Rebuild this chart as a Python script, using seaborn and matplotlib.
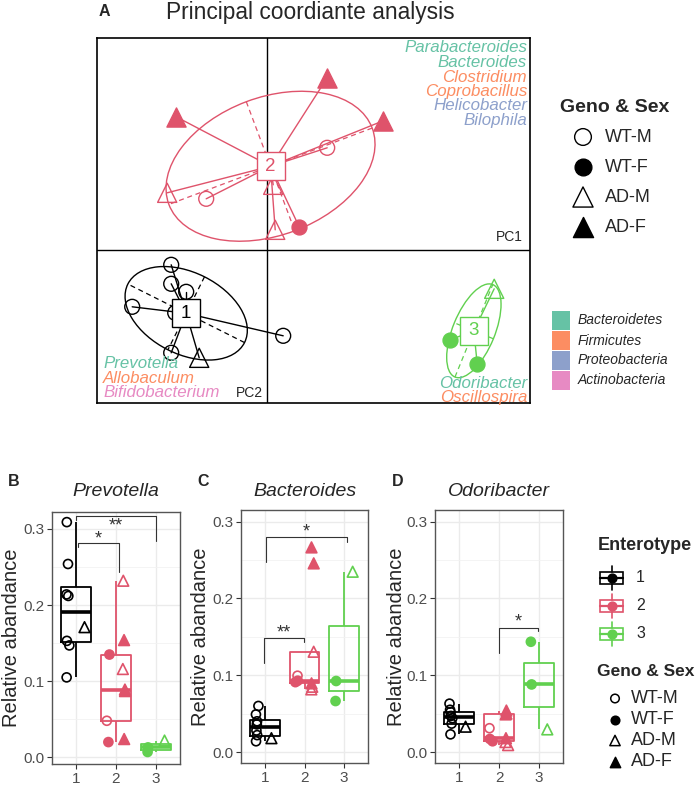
import numpy as np
import pandas as pd
import matplotlib
matplotlib.use("Agg")
import matplotlib.pyplot as plt
from matplotlib.patches import Ellipse, Rectangle
import seaborn as sns

# ---------------- data ----------------
cluster_ids = ["1", "2", "3"]
cluster_colors = ["#000000", "#DF536B", "#61D04F"]
groups = ["WT-M", "WT-F", "AD-M", "AD-F"]
group_marker = ["o", "o", "^", "^"]
group_filled = [False, True, False, True]

phyla = ["Bacteroidetes", "Firmicutes", "Proteobacteria", "Actinobacteria"]
phylum_colors = ["#66C2A5", "#FC8D62", "#8DA0CB", "#E78AC3"]

# PCoA scores
pc_cluster = ["1"] * 8 + ["2"] * 9 + ["3"] * 3
pc_group = ["WT-M", "WT-M", "WT-M", "WT-M", "WT-M", "WT-M", "AD-M", "WT-M",
            "AD-F", "AD-F", "AD-F", "WT-M", "AD-M", "WT-M", "AD-M", "AD-M", "WT-F",
            "AD-M", "WT-F", "WT-F"]
pc1 = [-0.96, -0.96, -0.81, -1.35, 0.16, -0.96, -0.68, -0.92,
       0.60, -0.91, 1.16, 0.60, -1.00, -0.61, 0.06, 0.08, 0.32,
       2.27, 1.83, 2.10]
pc2 = [-0.15, -0.34, -0.42, -0.57, -0.86, -1.03, -1.08, -0.63,
       1.72, 1.33, 1.29, 1.02, 0.57, 0.51, 0.65, 0.20, 0.23,
       -0.39, -0.90, -1.14]

genera_top_right = ["Parabacteroides", "Bacteroides", "Clostridium", "Coprobacillus",
                    "Helicobacter", "Bilophila"]
genera_top_right_phylum = [0, 0, 1, 1, 2, 2]
genera_bottom_left = ["Prevotella", "Allobaculum", "Bifidobacterium"]
genera_bottom_left_phylum = [0, 1, 3]
genera_bottom_right = ["Odoribacter", "Oscillospira"]
genera_bottom_right_phylum = [0, 1]

# Relative abundance per enterotype
panel_titles = ["Prevotella", "Bacteroides", "Odoribacter"]

B_cluster = ["1"] * 8 + ["2"] * 9 + ["3"] * 3
B_group = ["WT-M"] * 7 + ["AD-M"] + \
          ["AD-M", "AD-M", "AD-M", "AD-F", "AD-F", "AD-F", "WT-F", "WT-F", "WT-M"] + \
          ["WT-F", "WT-F", "AD-M"]
B_value = [0.309, 0.254, 0.212, 0.214, 0.153, 0.147, 0.105, 0.171,
           0.232, 0.116, 0.089, 0.154, 0.087, 0.024, 0.135, 0.020, 0.048,
           0.007, 0.013, 0.022]

C_cluster = ["1"] * 8 + ["2"] * 9 + ["3"] * 3
C_group = ["WT-M"] * 7 + ["AD-M"] + \
          ["AD-F", "AD-F", "AD-F", "AD-M", "AD-M", "AD-M", "WT-M", "WT-F", "WT-F"] + \
          ["WT-F", "WT-F", "AD-M"]
C_value = [0.060, 0.049, 0.040, 0.036, 0.028, 0.022, 0.014, 0.018,
           0.2665, 0.2457, 0.0894, 0.1306, 0.085, 0.0816, 0.0994, 0.0929, 0.091,
           0.0925, 0.0664, 0.2348]

D_cluster = ["1"] * 8 + ["2"] * 9 + ["3"] * 3
D_group = ["WT-M"] * 7 + ["AD-M"] + \
          ["WT-M", "WT-F", "WT-F", "AD-M", "AD-M", "AD-F", "AD-F", "AD-F", "AD-F"] + \
          ["WT-F", "WT-F", "AD-M"]
D_value = [0.063, 0.055, 0.052, 0.047, 0.044, 0.037, 0.023, 0.033,
           0.031, 0.017, 0.014, 0.013, 0.009, 0.054, 0.050, 0.049, 0.018,
           0.1436, 0.088, 0.0295]

# significance brackets: (x1, x2, y, y_left, y_right, label, label_y)
B_brackets = [(0.05, 1.075, 0.2815, 0.276, 0.243, "*", 0.287),
              (0.0, 2.0, 0.3165, 0.312, 0.284, "**", 0.304)]
C_brackets = [(0.025, 2.07, 0.280, 0.248, 0.274, "*", 0.286),
              (-0.02, 0.98, 0.148, 0.1155, 0.1436, "**", 0.155)]
D_brackets = [(1.0, 1.98, 0.162, 0.1285, 0.158, "*", 0.169)]

# ---------------- figure ----------------
sns.set_theme(style="white")
plt.rcParams['font.family'] = ['Liberation Sans', 'DejaVu Sans']

W, H = 700, 789
fig = plt.figure(figsize=(W / 100, H / 100), dpi=100)


def px_axes(l, t, r, b):
    return fig.add_axes([l / W, 1 - b / H, (r - l) / W, (b - t) / H])


def T(x, y, s, **kw):
    kw.setdefault("ha", "left")
    kw.setdefault("va", "center")
    return fig.text(x / W, 1 - y / H, s, **kw)


# ---------- Panel A: PCoA ----------
axA = px_axes(97, 38, 530, 403)
axA.set_xlim(-1.702, 2.628)
axA.set_ylim(-1.532, 2.118)
axA.set_xticks([])
axA.set_yticks([])
for sp in axA.spines.values():
    sp.set_color("black")
    sp.set_linewidth(1.2)
axA.axhline(0, color="black", lw=1.0, zorder=1)
axA.axvline(0, color="black", lw=1.0, zorder=1)

pc = pd.DataFrame({"cluster": pc_cluster, "group": pc_group, "PC1": pc1, "PC2": pc2})
for cid, col in zip(cluster_ids, cluster_colors):
    sub = pc[pc.cluster == cid]
    cx, cy = sub.PC1.mean(), sub.PC2.mean()
    cov = np.cov(sub.PC1, sub.PC2, bias=True)
    vals, vecs = np.linalg.eigh(cov)
    order = np.argsort(vals)[::-1]
    vals, vecs = vals[order], vecs[:, order]
    a, b = 1.5 * np.sqrt(vals)
    ang = np.degrees(np.arctan2(vecs[1, 0], vecs[0, 0]))
    axA.add_patch(Ellipse((cx, cy), 2 * a, 2 * b, angle=ang, fill=False,
                          edgecolor=col, lw=1.0, zorder=2))
    for k, r in zip([0, 1], [a, b]):
        v = vecs[:, k]
        axA.plot([cx - r * v[0], cx + r * v[0]], [cy - r * v[1], cy + r * v[1]],
                 color=col, lw=0.9, ls=(0, (4, 3)), zorder=2)
    for _, row in sub.iterrows():
        axA.plot([cx, row.PC1], [cy, row.PC2], color=col, lw=1.0, zorder=3)
    for g, m, f in zip(groups, group_marker, group_filled):
        gs = sub[sub.group == g]
        if len(gs) == 0:
            continue
        axA.scatter(gs.PC1, gs.PC2, marker=m, s=115 if m == "o" else 190,
                    facecolors=col if f else "none", edgecolors=col,
                    linewidths=1.0, zorder=4)
    axA.add_patch(Rectangle((cx - 0.14, cy - 0.14), 0.28, 0.28, facecolor="white",
                            edgecolor=col, lw=1.0, zorder=5))
    axA.text(cx, cy, cid, ha="center", va="center", fontsize=13.5, color=col, zorder=6)

# genus labels
for i, (gname, p) in enumerate(zip(genera_top_right, genera_top_right_phylum)):
    T(527, 48 + 14.5 * i, gname, ha="right", fontsize=12.2, style="italic",
      color=phylum_colors[p])
for i, (gname, p) in enumerate(zip(genera_bottom_left, genera_bottom_left_phylum)):
    T(103, 364 + 14.5 * i, gname, ha="left", fontsize=12.2, style="italic",
      color=phylum_colors[p])
for i, (gname, p) in enumerate(zip(genera_bottom_right, genera_bottom_right_phylum)):
    T(527, 383 + 14.5 * i, gname, ha="right", fontsize=12.2, style="italic",
      color=phylum_colors[p])
T(523, 237, "PC1", ha="right", fontsize=10)
T(263, 393, "PC2", ha="right", fontsize=10)

T(310.5, 12, "Principal coordiante analysis", ha="center", fontsize=16.4)
T(99, 12, "A", fontsize=11.5, fontweight="bold")

# overlay axes for legends
ov = fig.add_axes([0, 0, 1, 1])
ov.set_xlim(0, W)
ov.set_ylim(H, 0)
ov.axis("off")

# Geno & Sex legend (panel A)
T(560, 107, "Geno & Sex", fontsize=14, fontweight="bold")
for i, (g, m, f) in enumerate(zip(groups, group_marker, group_filled)):
    y = 137 + 30 * i
    ov.scatter([583], [y], marker=m, s=145 if m == "o" else 210,
               facecolors="black" if f else "none", edgecolors="black", linewidths=1.0)
    T(605, y, g, fontsize=13)

# phylum legend
for i, (p, c) in enumerate(zip(phyla, phylum_colors)):
    y0 = 311 + 20 * i
    ov.add_patch(Rectangle((552, y0), 18, 19, facecolor=c, edgecolor="none"))
    T(578, y0 + 9.5, p, fontsize=10, style="italic")

# ---------- Panels B, C, D ----------
panels = [
    ((52, 512, 180, 764), (-0.0088, 0.3223), B_cluster, B_group, B_value, B_brackets, 12, 8, "B"),
    ((241, 510, 368, 763), (-0.0143, 0.3152), C_cluster, C_group, C_value, C_brackets, 200, 197, "C"),
    ((435, 510, 563, 763), (-0.0143, 0.3152), D_cluster, D_group, D_value, D_brackets, 396, 392, "D"),
]
rng = np.random.default_rng(11)
for (box, ylim, cl, gr, va, brs, ylab_x, letter_x, letter), title in zip(panels, panel_titles):
    ax = px_axes(*box)
    df = pd.DataFrame({"cluster": cl, "group": gr, "value": va})
    ax.set_axisbelow(True)
    sns.boxplot(data=df, x="cluster", y="value", order=cluster_ids, hue="cluster",
                hue_order=cluster_ids, palette=cluster_colors, fill=False,
                showfliers=False, width=0.75, linewidth=1.3, legend=False, ax=ax,
                medianprops=dict(linewidth=2.6), capprops=dict(linewidth=0))
    for g, m, f in zip(groups, group_marker, group_filled):
        gs = df[df.group == g]
        if len(gs) == 0:
            continue
        xs = np.array([cluster_ids.index(c) for c in gs.cluster], dtype=float)
        xs += (-0.2 if g.startswith("WT") else 0.2) + rng.uniform(-0.04, 0.04, len(xs))
        cols = [cluster_colors[cluster_ids.index(c)] for c in gs.cluster]
        ax.scatter(xs, gs.value, marker=m, s=42 if m == "o" else 60,
                   facecolors=cols if f else "none", edgecolors=cols,
                   linewidths=1.2, zorder=5)
    for x1, x2, y, yl, yr, lab, ly in brs:
        ax.plot([x1, x1, x2, x2], [yl, y, y, yr], color="#333333", lw=0.8, zorder=6)
        ax.text((x1 + x2) / 2, ly, lab, ha="center", va="center", fontsize=13,
                color="#333333", zorder=6)
    ax.set_xlim(-0.6, 2.6)
    ax.set_ylim(*ylim)
    ax.set_xticks([0, 1, 2])
    ax.set_xticklabels(cluster_ids)
    ax.set_yticks([0.0, 0.1, 0.2, 0.3])
    ax.set_yticklabels(["0.0", "0.1", "0.2", "0.3"])
    ax.set_yticks([0.05, 0.15, 0.25], minor=True)
    ax.grid(True, which="major", color="#EBEBEB", lw=1.0)
    ax.grid(True, which="minor", axis="y", color="#F2F2F2", lw=0.6)
    ax.tick_params(axis="both", which="major", length=3.5, width=0.8, color="#333333",
                   labelsize=11, labelcolor="#4D4D4D", pad=2, left=True, bottom=True)
    ax.tick_params(which="minor", length=0)
    for sp in ax.spines.values():
        sp.set_color("#555555")
        sp.set_linewidth(1.0)
    ax.set_xlabel("")
    ax.set_ylabel("")
    cy = (box[1] + box[3]) / 2
    T(ylab_x, cy, "Relative abandance", ha="center", rotation=90, fontsize=14.5)
    T((box[0] + box[2]) / 2, 492, title, ha="center", fontsize=14, style="italic")
    T(letter_x, 482, letter, fontsize=11.5, fontweight="bold")

# Enterotype legend
T(598, 545, "Enterotype", fontsize=13, fontweight="bold")
for i, (cid, col) in enumerate(zip(cluster_ids, cluster_colors)):
    yc = 578 + 28 * i
    ov.plot([611.5, 611.5], [yc - 12, yc - 6], color=col, lw=1.2)
    ov.plot([611.5, 611.5], [yc + 6, yc + 12], color=col, lw=1.2)
    ov.add_patch(Rectangle((600, yc - 6), 23, 12, fill=False, edgecolor=col, lw=1.2))
    ov.plot([600, 623], [yc, yc], color=col, lw=1.6)
    ov.scatter([611.5], [yc], s=40, color=col, zorder=5)
    T(636, yc, cid, fontsize=11.5)

# Geno & Sex legend (bottom)
T(597, 672, "Geno & Sex", fontsize=12.5, fontweight="bold")
for i, (g, m, f) in enumerate(zip(groups, group_marker, group_filled)):
    y = 698.5 + 21 * i
    ov.scatter([615], [y], marker=m, s=38 if m == "o" else 55,
               facecolors="black" if f else "none", edgecolors="black", linewidths=1.1)
    T(631, y, g, fontsize=13)

fig.savefig("out.png", dpi=100)
